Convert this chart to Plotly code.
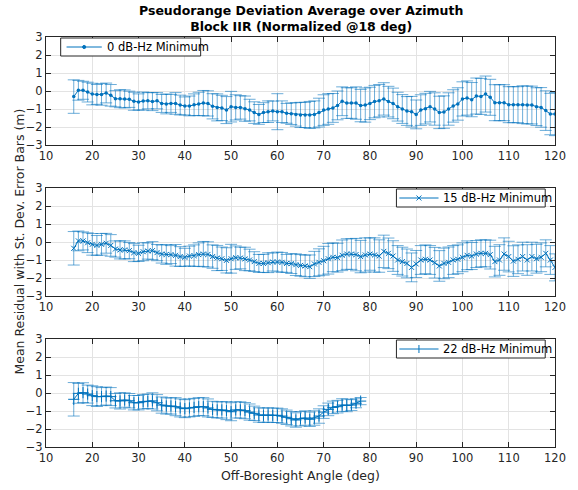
import plotly.graph_objects as go

# Off-boresight angles (deg)
angle_full = list(range(16, 121))
angle_22 = list(range(16, 79))

# 0 dB-Hz minimum: mean residual (m) and std dev (m)
mean_0 = [-0.31, 0.04, 0.04, -0.06, -0.17, -0.19, -0.19, -0.11, -0.24,
          -0.43, -0.43, -0.44, -0.46, -0.57, -0.61, -0.56, -0.54, -0.59, -0.54,
          -0.69, -0.72, -0.69, -0.69, -0.78, -0.83, -0.83, -0.76, -0.72, -0.67, -0.69,
          -0.85, -0.91, -0.94, -1.06, -0.87, -0.91, -0.91, -0.98, -1.06, -1.20,
          -1.30, -1.20, -1.15, -1.11, -1.15, -1.15, -1.24, -1.26, -1.30, -1.33,
          -1.33, -1.33, -1.30, -1.20, -1.06, -1.00, -0.94, -0.80, -0.57, -0.67,
          -0.67, -0.67, -0.81, -0.78, -0.69, -0.59, -0.54, -0.44, -0.59, -0.69,
          -0.87, -1.00, -1.11, -1.15, -1.30, -1.06, -0.98, -0.87, -1.00, -1.19,
          -1.17, -1.00, -0.83, -0.72, -0.44, -0.39, -0.48, -0.28, -0.30, -0.17,
          -0.35, -0.65, -0.65, -0.65, -0.76, -0.76, -0.76, -0.76, -0.78, -0.78,
          -0.87, -0.91, -1.09, -1.28, -1.28]
std_0 = [0.93, 0.55, 0.50, 0.55, 0.60, 0.55, 0.60, 0.55, 0.60,
         0.45, 0.50, 0.50, 0.45, 0.50, 0.45, 0.50, 0.45, 0.50, 0.45,
         0.50, 0.55, 0.50, 0.60, 0.55, 0.50, 0.55, 0.60, 0.65, 0.70, 0.70,
         0.70, 0.75, 0.70, 0.75, 0.85, 0.70, 0.65, 0.70, 0.60, 0.60,
         0.55, 0.55, 0.60, 0.55, 1.00, 0.60, 0.55, 0.60, 0.65, 0.70,
         0.70, 0.75, 0.75, 0.80, 0.85, 0.85, 0.80, 0.80, 0.80, 0.85,
         0.85, 0.90, 0.90, 0.95, 0.90, 0.90, 0.90, 0.90, 0.85, 0.85,
         0.80, 0.80, 0.80, 0.85, 0.80, 0.85, 0.85, 0.85, 0.90, 0.90,
         0.90, 0.90, 0.90, 0.90, 0.95, 0.95, 0.95, 1.00, 1.00, 1.00,
         1.00, 1.00, 1.00, 1.00, 1.00, 1.00, 1.00, 1.05, 1.05, 1.05,
         1.05, 1.10, 1.10, 1.15, 1.20]

# 15 dB-Hz minimum
mean_15 = [-0.35, 0.06, 0.06, -0.04, -0.13, -0.19, -0.13, -0.07, -0.19,
           -0.39, -0.44, -0.44, -0.48, -0.59, -0.63, -0.54, -0.50, -0.48, -0.59,
           -0.67, -0.69, -0.70, -0.74, -0.81, -0.85, -0.78, -0.76, -0.70, -0.67, -0.69,
           -0.81, -0.89, -0.93, -1.02, -0.93, -0.87, -0.89, -0.94, -1.00, -1.09,
           -1.19, -1.19, -1.15, -1.11, -1.11, -1.13, -1.19, -1.20, -1.26, -1.30,
           -1.33, -1.37, -1.22, -1.13, -1.04, -0.93, -0.85, -0.87, -0.74, -0.67,
           -0.67, -0.70, -0.81, -0.72, -0.67, -0.72, -0.78, -0.52, -0.63, -0.78,
           -1.00, -1.09, -1.19, -1.41, -1.22, -1.00, -0.96, -1.00, -1.15, -1.33,
           -1.19, -1.13, -1.00, -0.96, -0.85, -0.74, -0.78, -0.67, -0.63, -0.63,
           -0.70, -1.09, -1.00, -0.67, -0.81, -1.06, -0.96, -0.81, -1.00, -0.81,
           -0.93, -0.85, -0.63, -1.00, -1.41]
std_15 = [0.93, 0.55, 0.50, 0.55, 0.60, 0.55, 0.60, 0.55, 0.60,
          0.45, 0.50, 0.50, 0.45, 0.50, 0.45, 0.50, 0.45, 0.50, 0.45,
          0.50, 0.55, 0.50, 0.60, 0.55, 0.50, 0.55, 0.60, 0.65, 0.70, 0.70,
          0.65, 0.70, 0.65, 0.70, 0.80, 0.65, 0.60, 0.65, 0.60, 0.55,
          0.50, 0.50, 0.55, 0.50, 0.55, 0.55, 0.50, 0.55, 0.60, 0.60,
          0.60, 0.65, 0.70, 0.75, 0.80, 0.85, 0.80, 0.80, 0.85, 0.85,
          0.85, 0.90, 0.90, 0.95, 0.90, 0.95, 0.90, 0.90, 0.85, 0.85,
          0.80, 0.80, 0.80, 0.80, 0.75, 0.80, 0.80, 0.80, 0.85, 0.85,
          0.85, 0.85, 0.80, 0.80, 0.80, 0.80, 0.75, 0.75, 0.75, 0.75,
          0.80, 0.85, 0.85, 0.90, 0.85, 0.85, 0.80, 0.80, 0.85, 0.80,
          0.80, 0.80, 0.75, 0.80, 0.75]

# 22 dB-Hz minimum
mean_22 = [-0.35, -0.02, 0.02, -0.06, -0.15, -0.20, -0.20, -0.17, -0.20,
           -0.43, -0.44, -0.39, -0.43, -0.54, -0.54, -0.48, -0.46, -0.44, -0.54,
           -0.67, -0.72, -0.72, -0.76, -0.83, -0.87, -0.83, -0.80, -0.76, -0.76, -0.83,
           -0.91, -0.94, -0.94, -0.98, -1.04, -0.94, -0.94, -0.98, -1.06, -1.13,
           -1.22, -1.24, -1.22, -1.24, -1.24, -1.28, -1.35, -1.43, -1.50, -1.43,
           -1.39, -1.46, -1.39, -1.28, -1.06, -0.91, -0.80, -0.76, -0.67, -0.69,
           -0.67, -0.57, -0.45]
std_22 = [0.93, 0.55, 0.55, 0.50, 0.55, 0.55, 0.50, 0.50, 0.50,
          0.40, 0.45, 0.40, 0.40, 0.40, 0.40, 0.40, 0.40, 0.45, 0.45,
          0.45, 0.45, 0.45, 0.50, 0.50, 0.50, 0.50, 0.50, 0.50, 0.50, 0.50,
          0.45, 0.45, 0.45, 0.50, 0.50, 0.45, 0.45, 0.45, 0.45, 0.40,
          0.40, 0.40, 0.40, 0.40, 0.40, 0.40, 0.40, 0.40, 0.40, 0.40,
          0.40, 0.40, 0.40, 0.40, 0.35, 0.35, 0.35, 0.35, 0.35, 0.35,
          0.30, 0.25, 0.20]

series_names = ["0 dB-Hz Minimum", "15 dB-Hz Minimum", "22 dB-Hz Minimum"]
x_ticks = list(range(10, 121, 10))
y_ticks = list(range(-3, 4))

LINE = "#0072BD"
BAR = "rgba(0,114,189,0.58)"
AX = "#262626"
FONT = "DejaVu Sans"

W, H = 578, 490
ML, MR, MT, MB = 46, 12, 37, 43
PW, PH = W - ML - MR, H - MT - MB


def px_x(px):
    """Pixel column -> paper x."""
    return (px - ML) / PW


def px_y(py):
    """Pixel row (from top) -> paper y."""
    return (H - MB - py) / PH


fig = go.Figure()

panels = [
    (angle_full, mean_0, std_0, dict(symbol="circle", size=3.5), "x", "y"),
    (angle_full, mean_15, std_15, dict(symbol="x-thin-open", size=5,
                                       line=dict(width=1, color=LINE)), "x2", "y2"),
    (angle_22, mean_22, std_22, dict(symbol="cross-thin-open", size=8,
                                     line=dict(width=1, color=LINE)), "x3", "y3"),
]

for (xs, ys, sd, mk, xa, ya), name in zip(panels, series_names):
    fig.add_trace(go.Scatter(
        x=xs, y=ys, name=name, mode="lines+markers",
        line=dict(color=LINE, width=1),
        marker=dict(color=LINE, **mk),
        error_y=dict(type="data", array=sd, visible=True, color=BAR,
                     thickness=1, width=6),
        xaxis=xa, yaxis=ya, showlegend=False,
    ))

# panel extents in pixel rows (top, bottom)
panel_rows = [(37, 145), (188, 296), (339, 447)]

axis_common = dict(
    showline=True, linecolor=AX, linewidth=1, mirror="ticks",
    ticks="inside", ticklen=5, tickcolor=AX, tickwidth=1,
    showgrid=True, gridcolor="#e3e3e3", gridwidth=1, zeroline=False,
    tickfont=dict(family=FONT, size=11.5, color=AX),
)

for i, (top, bot) in enumerate(panel_rows):
    sfx = "" if i == 0 else str(i + 1)
    fig.layout["xaxis" + sfx] = dict(
        axis_common, domain=[0, 1], range=[10, 120], tickvals=x_ticks,
        anchor="y" + sfx,
    )
    fig.layout["yaxis" + sfx] = dict(
        axis_common, domain=[px_y(bot), px_y(top)], range=[-3, 3],
        tickvals=y_ticks, anchor="x" + sfx,
    )

# Legend boxes: (left, right, top, bottom, glyph-left, glyph-right, text-left, glyph)
legend_boxes = [
    (61, 204, 38, 56, 67, 103, 106, "dot"),
    (404, 556, 189, 207, 407, 447, 450, "x"),
    (404, 556, 340, 358, 407, 447, 450, "plus"),
]

for (l, r, t, b, gl, gr, tl, glyph), name in zip(legend_boxes, series_names):
    cy = (t + b) / 2
    cx = (gl + gr) / 2
    fig.add_shape(type="rect", xref="paper", yref="paper",
                  x0=px_x(l), x1=px_x(r), y0=px_y(b), y1=px_y(t),
                  line=dict(color=AX, width=1), fillcolor="white", layer="above")
    fig.add_shape(type="line", xref="paper", yref="paper",
                  x0=px_x(gl), x1=px_x(gr), y0=px_y(cy), y1=px_y(cy),
                  line=dict(color=LINE, width=1), layer="above")
    if glyph == "dot":
        fig.add_shape(type="circle", xref="paper", yref="paper",
                      x0=px_x(cx - 1.6), x1=px_x(cx + 1.6),
                      y0=px_y(cy + 1.6), y1=px_y(cy - 1.6),
                      line=dict(color=LINE, width=1), fillcolor=LINE, layer="above")
    elif glyph == "x":
        for s in (1, -1):
            fig.add_shape(type="line", xref="paper", yref="paper",
                          x0=px_x(cx - 2.5), x1=px_x(cx + 2.5),
                          y0=px_y(cy - 2.5 * s), y1=px_y(cy + 2.5 * s),
                          line=dict(color=LINE, width=1), layer="above")
    else:
        fig.add_shape(type="line", xref="paper", yref="paper",
                      x0=px_x(cx), x1=px_x(cx),
                      y0=px_y(cy - 4), y1=px_y(cy + 4),
                      line=dict(color=LINE, width=1), layer="above")
    fig.add_annotation(text=name, xref="paper", yref="paper",
                       x=px_x(tl), y=px_y(cy), xanchor="left", yanchor="middle",
                       showarrow=False,
                       font=dict(family=FONT, size=11.5, color="#000000"))

fig.add_annotation(
    text="<b>Pseudorange Deviation Average over Azimuth</b><br><b>Block IIR (Normalized @18 deg)</b>",
    xref="paper", yref="paper", x=0.5, y=1.0, yshift=1,
    xanchor="center", yanchor="bottom", showarrow=False,
    font=dict(family=FONT, size=12.5, color="#000000"),
)
fig.add_annotation(
    text="Mean Residual with St. Dev. Error Bars (m)",
    xref="paper", yref="paper", x=px_x(18), y=0.5, textangle=-90,
    xanchor="center", yanchor="middle", showarrow=False,
    font=dict(family=FONT, size=12.5, color=AX),
)
fig.add_annotation(
    text="Off-Boresight Angle (deg)",
    xref="paper", yref="paper", x=0.5, y=px_y(475),
    xanchor="center", yanchor="middle", showarrow=False,
    font=dict(family=FONT, size=12.5, color=AX),
)

fig.update_layout(
    width=W, height=H,
    margin=dict(l=ML, r=MR, t=MT, b=MB),
    paper_bgcolor="white", plot_bgcolor="white",
)

fig.write_html("out.html")
